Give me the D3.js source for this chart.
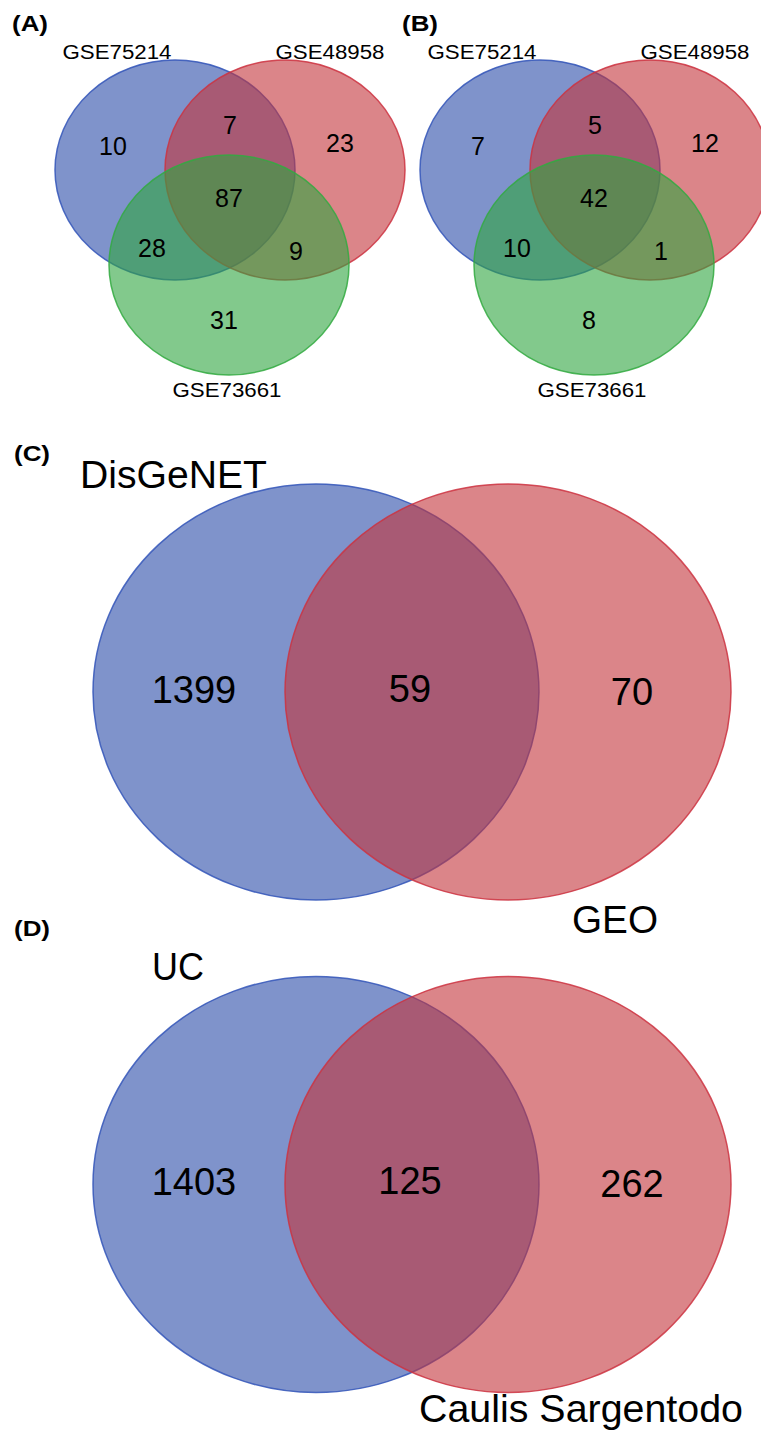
<!DOCTYPE html>
<html>
<head>
<meta charset="utf-8">
<script src="https://cdn.jsdelivr.net/npm/d3@7"></script>
<style>
  html, body { margin: 0; padding: 0; background: #fff; }
  svg { display: block; font-family: "Liberation Sans", Arial, Helvetica, sans-serif; }
</style>
</head>
<body>
<svg id="fig" width="761" height="1435"></svg>
<script>
// ---- data -------------------------------------------------------------
const panelTags = ["(A)", "(B)", "(C)", "(D)"];

// three-set panels: region order = only1, 1&2, only2, 1&2&3, 1&3, 2&3, only3
const setsA = ["GSE75214", "GSE48958", "GSE73661"];
const countsA = [10, 7, 23, 87, 28, 9, 31];
const setsB = ["GSE75214", "GSE48958", "GSE73661"];
const countsB = [7, 5, 12, 42, 10, 1, 8];

// two-set panels: region order = only1, 1&2, only2
const setsC = ["DisGeNET", "GEO"];
const countsC = [1399, 59, 70];
const setsD = ["UC", "Caulis Sargentodo"];
const countsD = [1403, 125, 262];

// ---- styling ----------------------------------------------------------
const setFill = ["rgb(42,75,168)", "rgb(195,52,58)", "rgb(47,165,63)"];
const setStroke = ["rgb(50,85,185)", "rgb(205,50,65)", "rgb(50,170,65)"];
const fillAlpha = 0.6;

// ---- layout (pixel geometry of each diagram type) ---------------------
const tri = {
  rx: 120, ry: 110,
  centers: [[175, 170], [285, 170], [229, 265]],
  regions: [[113, 146], [230, 125], [340, 143], [229, 198], [152, 248], [296, 251], [224, 320]],
  labels: [[117, 59], [330, 59], [227, 397]],
  labelWidth: 109, labelSize: 20, numSize: 25
};
const duo = {
  rx: 223, ry: 208,
  centers: [[316, 692], [508, 692]],
  regions: [[194, 689], [410, 688], [632, 691]],
  labelSize: 39, numSize: 38
};

const svg = d3.select("#fig");

function drawEllipses(g, centers, rx, ry) {
  g.selectAll("ellipse.set")
    .data(centers)
    .join("ellipse")
    .attr("class", "set")
    .attr("cx", d => d[0])
    .attr("cy", d => d[1])
    .attr("rx", rx)
    .attr("ry", ry)
    .attr("fill", (d, i) => setFill[i])
    .attr("fill-opacity", fillAlpha)
    .attr("stroke", (d, i) => setStroke[i])
    .attr("stroke-opacity", 0.85)
    .attr("stroke-width", 1.5);
}

function drawCounts(g, counts, positions, size) {
  g.selectAll("text.count")
    .data(counts)
    .join("text")
    .attr("class", "count")
    .attr("x", (d, i) => positions[i][0])
    .attr("y", (d, i) => positions[i][1] + size * 0.36)
    .attr("text-anchor", "middle")
    .attr("font-size", size)
    .attr("fill", "#000")
    .text(d => d);
}

function drawLabels(g, names, positions, widths, size) {
  g.selectAll("text.setname")
    .data(names)
    .join("text")
    .attr("class", "setname")
    .attr("x", (d, i) => positions[i][0] - widths[i] / 2)
    .attr("y", (d, i) => positions[i][1])
    .attr("font-size", size)
    .attr("textLength", (d, i) => widths[i])
    .attr("lengthAdjust", "spacingAndGlyphs")
    .attr("fill", "#000")
    .text(d => d);
}

function tag(text, x, y) {
  svg.append("text")
    .attr("x", x).attr("y", y)
    .attr("font-size", 22)
    .attr("font-weight", "bold")
    .attr("textLength", 36)
    .attr("lengthAdjust", "spacingAndGlyphs")
    .text(text);
}

// ---- panels A and B: three-set diagrams -------------------------------
[[setsA, countsA, 0], [setsB, countsB, 365]].forEach(([names, counts, dx]) => {
  const g = svg.append("g").attr("transform", `translate(${dx},0)`);
  drawEllipses(g, tri.centers, tri.rx, tri.ry);
  drawCounts(g, counts, tri.regions, tri.numSize);
  drawLabels(g, names, tri.labels, names.map(() => tri.labelWidth), tri.labelSize);
});

// ---- panels C and D: two-set diagrams ---------------------------------
const gC = svg.append("g");
drawEllipses(gC, duo.centers, duo.rx, duo.ry);
drawCounts(gC, countsC, duo.regions, duo.numSize);
drawLabels(gC, setsC, [[173.5, 488], [615, 933]], [187, 86], duo.labelSize);

const gD = svg.append("g").attr("transform", "translate(0,492.5)");
drawEllipses(gD, duo.centers, duo.rx, duo.ry);
drawCounts(gD, countsD, duo.regions, duo.numSize);
drawLabels(gD, setsD, [[178, 487.5], [581, 929.5]], [52, 324], duo.labelSize);

// ---- panel tags -------------------------------------------------------
tag(panelTags[0], 12, 31);
tag(panelTags[1], 402, 31);
tag(panelTags[2], 14, 461);
tag(panelTags[3], 14, 936);
</script>
</body>
</html>
